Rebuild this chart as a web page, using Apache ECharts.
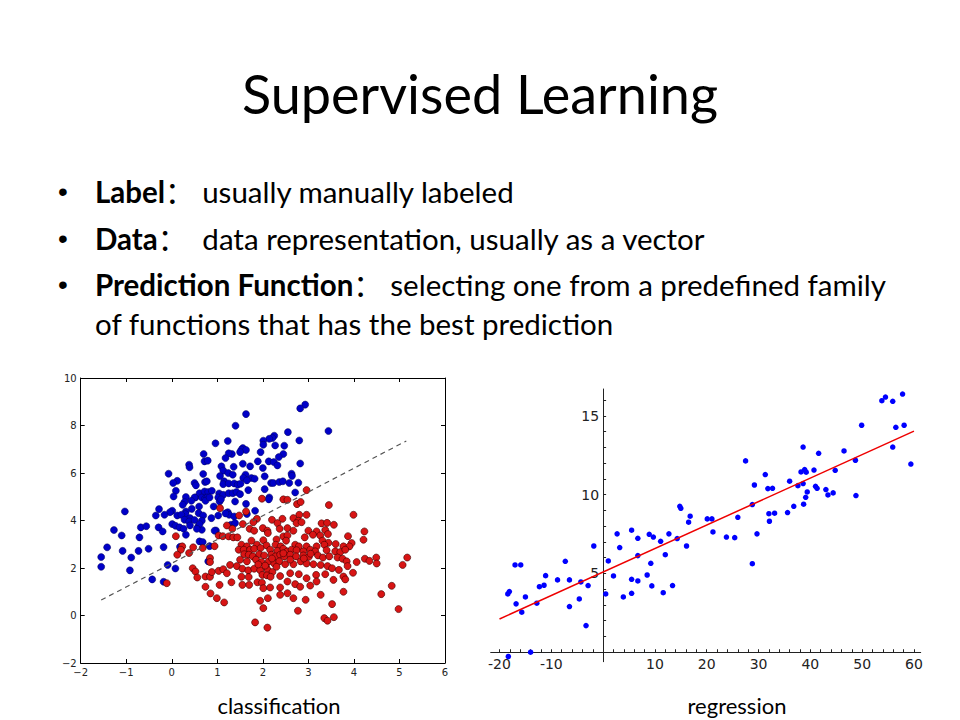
<!DOCTYPE html>
<html>
<head>
<meta charset="utf-8">
<script src="https://cdn.jsdelivr.net/npm/echarts@6/dist/echarts.min.js"></script>
<style>html,body{margin:0;padding:0;background:#fff;}#c{width:960px;height:720px;}</style>
</head>
<body>
<div id="c"></div>
<script>
// ---------- Classification data ----------
const bluePoints = [
[2.93,8.88],[2.82,8.72],[1.63,8.48],[1.40,7.99],[3.44,7.77],[2.55,7.72],[0.96,7.25],[1.23,7.35],[2.80,7.37],[2.25,7.57],
[2.21,7.47],[2.14,7.44],[2.01,7.36],[2.01,7.19],[2.27,7.16],[2.47,7.15],[1.56,7.05],[1.53,6.98],[1.63,6.97],[1.50,6.88],
[1.32,6.80],[1.25,6.83],[0.70,6.80],[1.95,6.88],[2.45,6.80],[2.35,6.67],[1.18,6.63],[0.72,6.49],[0.79,6.52],[1.56,6.39],
[1.36,6.26],[1.72,6.28],[0.38,6.35],[0.39,6.24],[1.09,6.28],[1.89,6.49],[2.13,6.49],[2.24,6.46],[2.32,6.32],[2.82,6.40],
[2.00,6.21],[1.13,6.10],[2.63,5.97],[2.64,5.88],[0.69,5.96],[-0.07,5.97],[1.24,6.00],[1.34,5.93],[1.06,5.87],[1.62,5.93],
[1.57,5.79],[1.75,5.79],[1.82,5.76],[1.65,5.69],[2.04,5.86],[0.12,5.67],[0.03,5.58],[0.50,5.58],[0.53,5.48],[0.73,5.62],
[0.77,5.65],[1.15,5.65],[1.13,5.53],[1.25,5.56],[1.37,5.56],[1.45,5.51],[1.51,5.55],[2.18,5.58],[2.23,5.58],[2.36,5.62],
[2.44,5.65],[2.58,5.58],[2.78,5.59],[0.09,5.25],[0.31,4.99],[0.52,4.97],[0.66,5.04],[0.61,5.15],[0.72,5.22],[0.80,5.20],
[0.88,5.25],[0.04,5.01],[0.50,4.97],[0.66,4.97],[0.73,4.92],[0.78,4.97],[0.74,4.83],[0.83,4.97],[1.04,5.14],[1.02,4.97],
[1.13,5.08],[1.25,5.15],[1.34,5.15],[1.42,5.20],[1.50,5.11],[1.68,5.28],[1.39,4.80],[1.63,4.70],[2.04,5.32],[2.14,4.97],
[2.13,4.89],[2.71,5.18],[0.28,4.78],[0.43,4.83],[0.24,4.66],[1.05,4.80],[1.08,4.89],[0.92,4.59],[0.60,4.59],[0.44,4.49],
[0.31,4.38],[-1.03,4.38],[-0.28,4.48],[0.01,4.41],[-0.04,4.35],[0.59,4.31],[0.69,4.21],[0.30,4.27],[1.02,4.21],[1.23,4.35],
[1.26,4.24],[1.18,4.30],[1.37,4.17],[1.65,4.27],[1.83,4.41],[-0.35,4.21],[-0.16,4.24],[0.12,4.21],[0.21,4.24],[0.40,4.10],
[0.28,4.03],[0.38,3.96],[0.50,4.02],[0.66,3.99],[0.87,4.10],[0.01,3.85],[0.08,3.78],[0.17,3.71],[0.40,3.79],[0.58,3.75],
[0.66,3.61],[0.61,3.85],[1.30,3.82],[1.39,3.89],[0.26,3.65],[0.55,3.65],[0.97,3.58],[0.94,3.57],[0.31,3.40],[-0.29,3.71],
[-0.20,3.54],[-0.68,3.71],[-0.56,3.76],[-1.27,3.60],[-1.10,3.37],[-0.71,3.29],[-1.42,2.87],[-1.55,2.46],[-1.55,2.05],[-1.08,2.72],
[-0.89,2.44],[-0.92,1.90],[-0.73,2.72],[-0.51,2.81],[-0.18,2.88],[-0.09,2.13],[0.08,1.98],[-0.43,1.52],[-0.18,1.42],[0.61,3.12],
[0.68,3.09],[0.83,2.92],[0.18,2.89],[0.80,2.28]
];
const redPoints = [
[2.96,5.28],[1.98,4.92],[2.45,4.89],[2.54,4.87],[2.75,4.69],[2.83,4.78],[3.45,4.65],[1.06,4.52],[1.63,4.38],[1.48,4.21],
[2.80,4.24],[2.96,4.24],[3.99,4.24],[2.20,4.03],[2.43,4.07],[2.67,4.10],[2.78,3.99],[1.87,4.07],[2.32,3.89],[2.74,3.89],
[2.85,3.93],[3.29,3.88],[3.41,3.90],[3.56,3.82],[1.21,3.79],[1.56,3.85],[1.79,3.93],[1.33,3.65],[1.71,3.65],[1.81,3.57],
[2.00,3.68],[2.10,3.57],[2.37,3.65],[2.54,3.68],[2.67,3.57],[3.00,3.57],[3.18,3.54],[3.37,3.60],[4.23,3.54],[1.03,3.37],
[1.12,3.34],[1.25,3.33],[1.35,3.29],[1.44,3.29],[2.11,3.47],[2.45,3.33],[2.54,3.37],[2.92,3.29],[3.10,3.40],[3.26,3.37],
[3.43,3.43],[3.87,3.34],[0.09,3.34],[4.21,3.19],[1.75,3.15],[2.01,3.17],[2.30,3.20],[2.51,3.15],[3.31,3.15],[3.44,3.06],
[3.60,3.01],[3.95,3.05],[1.53,2.98],[1.65,2.91],[1.87,2.98],[2.08,2.95],[2.28,2.98],[2.39,2.91],[2.71,2.98],[2.79,2.91],
[2.96,2.91],[3.18,2.91],[3.35,2.98],[3.77,2.91],[3.90,2.91],[0.23,2.91],[0.20,2.77],[0.47,2.87],[0.68,2.84],[0.94,2.92],
[0.12,2.56],[0.38,2.63],[1.47,2.77],[1.58,2.77],[1.72,2.77],[1.81,2.81],[1.95,2.84],[2.16,2.77],[2.32,2.72],[2.45,2.81],
[2.54,2.70],[2.63,2.77],[2.74,2.75],[2.89,2.70],[3.04,2.77],[3.15,2.70],[3.40,2.75],[3.59,2.70],[3.70,2.67],[3.81,2.77],
[1.59,2.58],[1.69,2.56],[1.78,2.49],[1.92,2.58],[2.03,2.53],[2.19,2.56],[2.28,2.49],[2.38,2.56],[2.47,2.49],[2.60,2.56],
[2.73,2.49],[2.89,2.53],[3.01,2.47],[3.21,2.53],[3.32,2.44],[3.46,2.49],[3.64,2.44],[3.75,2.39],[3.84,2.28],[4.24,2.39],
[4.34,2.30],[4.49,2.44],[4.50,2.19],[5.17,2.44],[5.07,2.13],[4.06,2.25],[1.50,2.35],[1.65,2.28],[1.85,2.35],[1.97,2.25],
[2.13,2.28],[2.25,2.19],[2.36,2.28],[2.49,2.16],[2.67,2.16],[2.83,2.28],[2.96,2.19],[3.11,2.16],[3.27,2.13],[3.42,2.08],
[3.52,1.99],[3.67,1.92],[3.86,2.08],[0.84,2.42],[0.84,2.25],[0.46,1.99],[0.52,1.85],[0.56,1.60],[0.74,1.64],[0.84,1.63],
[0.88,1.83],[1.03,1.88],[1.13,1.95],[1.28,2.13],[1.43,2.08],[1.55,1.97],[1.68,1.90],[1.81,1.97],[1.94,1.91],[2.07,2.05],
[2.11,1.91],[2.21,1.83],[1.99,1.71],[2.09,1.69],[2.17,1.63],[2.38,1.66],[2.60,1.78],[2.79,1.74],[2.96,1.57],[3.17,1.71],
[3.37,1.74],[3.77,1.64],[3.81,1.52],[1.21,1.78],[1.53,1.63],[1.69,1.62],[1.88,1.40],[1.98,1.38],[1.55,1.29],[1.70,1.29],
[2.01,1.15],[2.16,1.18],[2.38,1.18],[2.54,1.43],[2.71,1.32],[2.82,1.21],[3.04,1.26],[3.18,1.43],[3.55,1.50],[3.98,1.80],
[0.74,1.21],[1.05,1.29],[1.31,1.40],[-0.11,1.36],[0.85,0.93],[0.99,0.73],[1.15,0.55],[1.94,0.62],[2.11,0.73],[2.38,0.87],
[2.54,0.94],[2.67,0.73],[2.94,0.66],[3.27,0.87],[3.77,1.00],[4.60,0.90],[4.83,1.25],[4.98,0.27],[2.01,0.31],[2.77,0.20],
[3.52,0.48],[1.83,-0.29],[2.10,-0.51],[3.35,-0.11],[3.42,-0.22],[3.56,-0.07],
[2.20,2.40],[2.05,2.10],[2.30,2.05],[2.60,2.35],[2.90,2.40],[1.90,2.15],[2.45,2.62],[3.05,2.60]
];
const boundaryX = [-1.55, 5.15];
const boundarySlope = 1.0;
const boundaryIntercept = 2.2;
const clsXTicks = [-2, -1, 0, 1, 2, 3, 4, 5, 6];
const clsYTicks = [-2, 0, 2, 4, 6, 8, 10];

// ---------- Regression data ----------
const regX = [-18.4,-18.1,-17.0,-15.9,-16.8,-15.7,-15.0,-18.3,-14.0,-12.8,-12.3,-11.4,-11.1,-8.8,-7.3,-6.5,-6.5,-4.6,-4.3,-3.3,
-2.9,-1.8,0.5,1.0,2.0,2.7,3.2,3.9,5.5,5.5,5.5,6.7,6.7,6.7,8.5,8.9,9.2,9.4,9.7,11.1,
11.6,12.0,12.7,13.4,14.3,14.8,15.0,16.1,16.5,16.8,20.1,21.0,21.2,23.8,25.4,26.0,27.5,28.8,28.8,29.2,
29.7,31.3,31.8,32.7,32.0,32.1,33.1,35.6,36.0,36.8,37.6,38.2,38.6,38.6,38.7,38.9,39.2,39.1,39.4,40.7,
41.0,41.3,41.6,43.0,43.4,44.4,44.8,46.5,48.7,48.8,49.9,53.8,54.5,55.9,55.9,56.5,57.8,58.1,59.4];
const regY = [3.70,3.85,5.54,5.54,3.07,2.54,3.51,-0.27,0.0,3.11,4.16,4.25,4.86,4.59,5.77,4.59,2.90,3.38,4.46,1.69,
4.23,6.74,3.70,5.79,4.84,7.51,6.64,3.51,7.74,4.63,3.74,7.23,6.13,4.52,4.90,7.48,5.64,4.21,7.31,7.04,
3.78,6.19,7.51,4.23,7.21,9.26,9.13,6.74,8.25,8.63,8.46,8.46,7.63,7.31,7.27,8.56,12.14,9.37,5.62,10.61,
7.51,11.27,10.38,10.40,8.79,8.31,8.82,8.86,10.85,9.26,10.57,11.44,10.70,13.02,9.39,11.59,11.42,9.83,10.17,11.56,
10.53,10.40,12.62,10.32,9.98,10.11,11.54,12.77,12.18,9.94,14.40,15.96,16.19,15.92,13.02,14.27,16.38,14.40,11.94];
const fitSlope = 0.149;
const fitIntercept = 5.09;
const fitX = [-20, 60];
const regXRange = [-21.7, 61.3];
const regYRange = [-0.6, 16.7];
const regXLabels = [-20, -10, 10, 20, 30, 40, 50, 60];
const regYLabels = [5, 10, 15];
const regXMinor = [-20,-18,-16,-14,-12,-10,-8,-6,-4,-2,2,4,6,8,10,12,14,16,18,20,22,24,26,28,30,32,34,36,38,40,42,44,46,48,50,52,54,56,58,60];
const regYMinor = [1,2,3,4,5,6,7,8,9,10,11,12,13,14,15,16];

// ---------- Slide text ----------
const titleText = 'Supervised Learning';
const bullets = [
  {b: 'Label', rest: '\uFF1A usually manually labeled'},
  {b: 'Data', rest: '\uFF1A  data representation, usually as a vector'},
  {b: 'Prediction Function', rest: '\uFF1A selecting one from a predefined family'}
];
const bulletCont = 'of functions that has the best prediction';
const captions = ['classification', 'regression'];

const minus = v => (v < 0 ? '\u2212' + Math.abs(v) : String(v));
const sansFont = 'Lato, "Noto Sans CJK SC", sans-serif';
const W = 960, H = 720;

const chart = echarts.init(document.getElementById('c'), null, {renderer: 'svg'});

const boxAxisX = (pos, showLabel) => ({
  gridIndex: 0, type: 'value', min: clsXTicks[0], max: clsXTicks[clsXTicks.length - 1], interval: 1,
  position: pos,
  axisLine: {show: true, onZero: false, lineStyle: {color: '#000', width: 1}},
  axisTick: {show: true, inside: true, length: 4, lineStyle: {color: '#000', width: 1}},
  axisLabel: {show: showLabel, formatter: minus, fontSize: 10, color: '#222', margin: 4, fontFamily: 'DejaVu Sans'},
  splitLine: {show: false}
});
const boxAxisY = (pos, showLabel) => ({
  gridIndex: 0, type: 'value', min: clsYTicks[0], max: clsYTicks[clsYTicks.length - 1], interval: 2,
  position: pos,
  axisLine: {show: true, onZero: false, lineStyle: {color: '#000', width: 1}},
  axisTick: {show: true, inside: true, length: 4, lineStyle: {color: '#000', width: 1}},
  axisLabel: {show: showLabel, formatter: minus, fontSize: 10, color: '#222', margin: 4, fontFamily: 'DejaVu Sans'},
  splitLine: {show: false}
});

// regression grid geometry; axis-only grids are placed at the data's zero lines
const rg = {left: 490.7, right: 39.3, top: 389, bottom: 58.3};
const rgW = W - rg.left - rg.right, rgH = H - rg.top - rg.bottom;
const zeroXpx = rg.left + (0 - regXRange[0]) / (regXRange[1] - regXRange[0]) * rgW;
const zeroYpx = rg.top + (regYRange[1] - 0) / (regYRange[1] - regYRange[0]) * rgH;

const hiddenAxis = (gi, range) => ({gridIndex: gi, type: 'value', min: range[0], max: range[1], show: false});

const graphics = [
  {type: 'text', x: 480, y: 93, style: {text: titleText, font: '54px ' + sansFont, fill: '#000', align: 'center', verticalAlign: 'middle'}}
];
const bulletY = [191, 238, 284];
bullets.forEach((it, i) => {
  graphics.push({type: 'text', x: 63, y: bulletY[i], style: {text: '\u2022', font: '28px Arial', fill: '#000', align: 'center', verticalAlign: 'middle'}});
  graphics.push({type: 'text', x: 95, y: bulletY[i], style: {
    text: '{b|' + it.b + '}{n|' + it.rest + '}', verticalAlign: 'middle',
    rich: {
      b: {font: 'bold 29.5px ' + sansFont, fill: '#000'},
      n: {font: '29.5px ' + sansFont, fill: '#000'}
    }
  }});
});
graphics.push({type: 'text', x: 95, y: 323, style: {text: bulletCont, font: '29.5px ' + sansFont, fill: '#000', verticalAlign: 'middle'}});
graphics.push({type: 'text', x: 279, y: 705, style: {text: captions[0], font: '22px ' + sansFont, fill: '#000', align: 'center', verticalAlign: 'middle'}});
graphics.push({type: 'text', x: 737, y: 705, style: {text: captions[1], font: '22px ' + sansFont, fill: '#000', align: 'center', verticalAlign: 'middle'}});

const option = {
  animation: false,
  backgroundColor: '#fff',
  graphic: graphics,
  grid: [
    {left: 80.7, right: 515, top: 378, bottom: 57},
    {left: rg.left, right: rg.right, top: rg.top, bottom: rg.bottom},
    {left: zeroXpx, right: rg.right, top: rg.top, bottom: rg.bottom},
    {left: rg.left, right: rg.right, top: rg.top, bottom: H - zeroYpx}
  ],
  xAxis: [
    boxAxisX('bottom', true),
    boxAxisX('top', false),
    hiddenAxis(1, regXRange),
    hiddenAxis(2, [0, regXRange[1]]),
    {
      gridIndex: 3, type: 'value', min: regXRange[0], max: regXRange[1], position: 'bottom',
      axisLine: {show: true, onZero: false, lineStyle: {color: '#222', width: 1}},
      axisTick: {show: true, inside: true, length: 3, customValues: regXMinor, lineStyle: {color: '#222'}},
      axisLabel: {customValues: regXLabels, fontSize: 14, color: '#222', margin: 5, fontFamily: 'DejaVu Sans'},
      splitLine: {show: false}
    }
  ],
  yAxis: [
    boxAxisY('left', true),
    boxAxisY('right', false),
    hiddenAxis(1, regYRange),
    {
      gridIndex: 2, type: 'value', min: regYRange[0], max: regYRange[1], position: 'left',
      axisLine: {show: true, onZero: false, lineStyle: {color: '#222', width: 1}},
      axisTick: {show: true, inside: true, length: 3, customValues: regYMinor, lineStyle: {color: '#222'}},
      axisLabel: {customValues: regYLabels, fontSize: 14, color: '#222', margin: 4, fontFamily: 'DejaVu Sans'},
      splitLine: {show: false}
    },
    hiddenAxis(3, [0, regYRange[1]])
  ],
  series: [
    {type: 'scatter', xAxisIndex: 0, yAxisIndex: 0, data: bluePoints, symbolSize: 7,
     itemStyle: {color: '#0000c8', borderColor: '#00005a', borderWidth: 0.5, opacity: 1}},
    {type: 'scatter', xAxisIndex: 0, yAxisIndex: 0, data: redPoints, symbolSize: 7,
     itemStyle: {color: '#d81414', borderColor: '#3c0000', borderWidth: 0.6, opacity: 1}},
    {type: 'line', xAxisIndex: 0, yAxisIndex: 0, symbol: 'none',
     data: boundaryX.map(x => [x, boundarySlope * x + boundaryIntercept]),
     lineStyle: {color: '#555', width: 1.2, type: [5, 4]}},
    {type: 'scatter', xAxisIndex: 2, yAxisIndex: 2, clip: false, data: regX.map((x, i) => [x, regY[i]]), symbolSize: 5.5,
     itemStyle: {color: '#0000ff', opacity: 1}},
    {type: 'line', xAxisIndex: 2, yAxisIndex: 2, symbol: 'none',
     data: fitX.map(x => [x, fitSlope * x + fitIntercept]),
     lineStyle: {color: '#ee0000', width: 1.5}}
  ]
};
chart.setOption(option);
</script>
</body>
</html>
